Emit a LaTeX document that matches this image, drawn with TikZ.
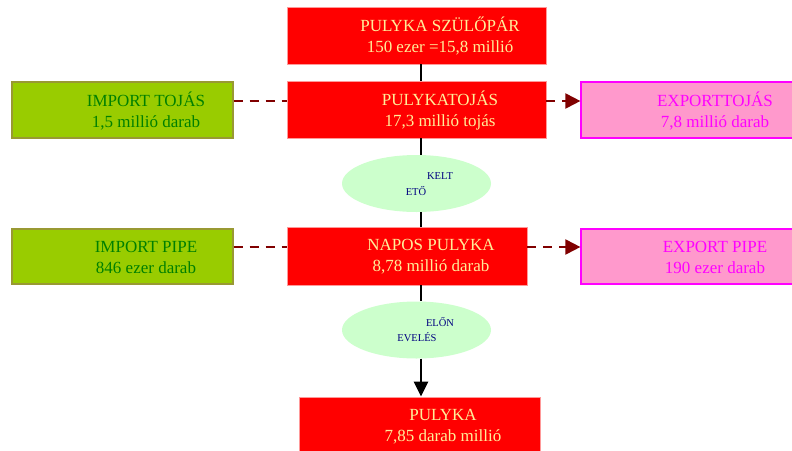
\documentclass[tikz,border=0pt]{standalone}
\usepackage{fontspec}
\setmainfont{Liberation Serif}
\usetikzlibrary{shapes.geometric,arrows.meta}
\definecolor{boxred}{HTML}{FF0000}
\definecolor{redborder}{HTML}{FF9999}
\definecolor{redtext}{HTML}{FFEE99}
\definecolor{imfill}{HTML}{99CC00}
\definecolor{imborder}{HTML}{999933}
\definecolor{imtext}{HTML}{008000}
\definecolor{exfill}{HTML}{FF99CC}
\definecolor{exborder}{HTML}{FF00FF}
\definecolor{extext}{HTML}{FF00FF}
\definecolor{ellfill}{HTML}{CCFFCC}
\definecolor{elltext}{HTML}{000080}
\definecolor{dashcol}{HTML}{800000}
\tikzset{
  redbox/.style={draw=redborder,line width=0.8pt,fill=boxred,rectangle,inner sep=0pt},
  imbox/.style={draw=imborder,line width=1.2pt,fill=imfill,rectangle,inner sep=0pt},
  exbox/.style={draw=exborder,line width=1.2pt,fill=exfill,rectangle,inner sep=0pt},
  oval/.style={ellipse,fill=ellfill,draw=none,minimum width=149pt,minimum height=57pt,inner sep=0pt},
  bigtxt/.style={align=center,inner sep=0pt,font=\fontsize{17}{21}\selectfont},
  smalltxt/.style={inner sep=0pt,font=\fontsize{10.5}{13}\selectfont,text=elltext},
  flow/.style={line width=2.5pt,black},
  dashline/.style={line width=2pt,dashcol,dash pattern=on 9pt off 7pt}
}
\begin{document}
\begin{tikzpicture}[x=1pt,y=-1pt]
\useasboundingbox (0,0) rectangle (792,450);
% boxes
\node[redbox,minimum width=259pt,minimum height=57pt] (szulo) at (416.5,35.5) {};
\node[redbox,minimum width=259pt,minimum height=57pt] (tojas) at (416.5,109.5) {};
\node[redbox,minimum width=240pt,minimum height=58pt] (napos) at (407,256) {};
\node[redbox,minimum width=241pt,minimum height=58pt] (pulyka) at (419.5,426) {};
\node[imbox,minimum width=221pt,minimum height=56pt] (imptoj) at (122.5,110) {};
\node[imbox,minimum width=221pt,minimum height=55pt] (imppipe) at (122.5,256.5) {};
\node[exbox,minimum width=216pt,minimum height=56pt] (exptoj) at (689,110) {};
\node[exbox,minimum width=216pt,minimum height=55pt] (exppipe) at (689,256.5) {};
\node[oval] (kelt) at (416.5,183.5) {};
\node[oval] (elon) at (416.5,330) {};
% texts
\node[bigtxt,text=redtext] (t1) at (440,36.5) {PULYKA SZÜLŐPÁR\\150 ezer =15,8 millió};
\node[bigtxt,text=redtext] (t2) at (440,110.5) {PULYKATOJÁS\\17,3 millió tojás};
\node[bigtxt,text=redtext] (t3) at (431,257) {NAPOS PULYKA\\8,78 millió darab};
\node[bigtxt,text=redtext] (t4) at (443,427) {PULYKA\\7,85 darab millió};
\node[bigtxt,text=imtext] (t5) at (146,111) {IMPORT TOJÁS\\1,5 millió darab};
\node[bigtxt,text=imtext] (t6) at (146,257) {IMPORT PIPE\\846 ezer darab};
\node[bigtxt,text=extext] (t7) at (715,111) {EXPORTTOJÁS\\7,8 millió darab};
\node[bigtxt,text=extext] (t8) at (715,257) {EXPORT PIPE\\190 ezer darab};
\node[smalltxt] (k1) at (440,176) {KELT};
\node[smalltxt] (k2) at (416,191) {ETŐ};
\node[smalltxt] (e1) at (440,322) {ELŐN};
\node[smalltxt] (e2) at (417,337) {EVELÉS};
% vertical flow
\coordinate (lx) at (421,0);
\draw[flow] (szulo.south -| lx) -- (tojas.north -| lx);
\draw[flow] (tojas.south -| lx) -- (kelt.north -| lx);
\draw[flow] (kelt.south -| lx) -- (napos.north -| lx);
\draw[flow] (napos.south -| lx) -- (elon.north -| lx);
\draw[flow,-{Triangle[length=15pt,width=14pt]}] (elon.south -| lx) -- (pulyka.north -| lx);
% dashed
\draw[dashline] (imptoj.east |- 0,101) -- (tojas.west |- 0,101);
\draw[dashline] (imppipe.east |- 0,247) -- (napos.west |- 0,247);
\draw[dashline,-{Triangle[length=15pt,width=15pt]}] (tojas.east |- 0,101) -- (exptoj.west |- 0,101);
\draw[dashline,-{Triangle[length=15pt,width=15pt]}] (napos.east |- 0,247) -- (exppipe.west |- 0,247);
\end{tikzpicture}
\end{document}
